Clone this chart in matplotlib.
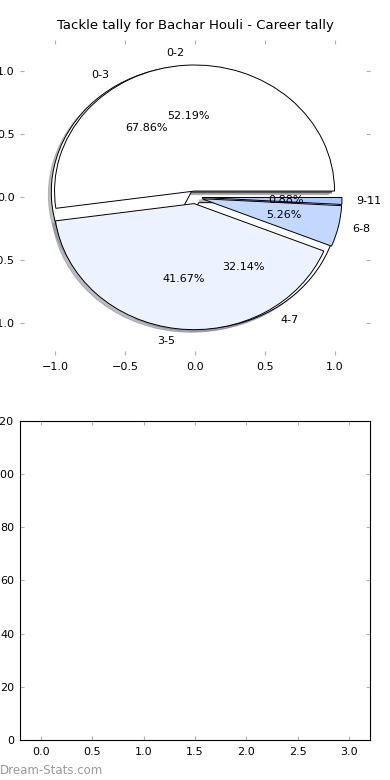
import matplotlib
matplotlib.use('Agg')
import matplotlib.pyplot as plt

# career tally, two groupings
labels_a = ['0-3', '4-7']
values_a = [67.86, 32.14]
colors_a = ['#ffffff', '#ffffff']

labels_b = ['0-2', '3-5', '6-8', '9-11']
values_b = [52.19, 41.67, 5.26, 0.88]
colors_b = ['#ffffff', '#ecf2ff', '#c4d8ff', '#a9c8ff']

title = 'Tackle tally for Bachar Houli - Career tally'

plt.rcParams['font.family'] = ['DejaVu Sans']
plt.rcParams['font.size'] = 8
plt.rcParams['xtick.direction'] = 'in'
plt.rcParams['ytick.direction'] = 'in'
plt.rcParams['xtick.top'] = True
plt.rcParams['ytick.right'] = True
plt.rcParams['xtick.color'] = '#b0b0b0'
plt.rcParams['ytick.color'] = '#b0b0b0'
plt.rcParams['xtick.labelcolor'] = 'black'
plt.rcParams['ytick.labelcolor'] = 'black'
plt.rcParams['xtick.major.size'] = 3
plt.rcParams['ytick.major.size'] = 3
plt.rcParams['xtick.major.pad'] = 5
plt.rcParams['ytick.major.pad'] = 4

fig = plt.figure(figsize=(3.9, 7.8), dpi=100)
ax1 = fig.add_axes([0.0513, 0.545, 0.8974, 0.404])
ax2 = fig.add_axes([0.0513, 0.0513, 0.8974, 0.409])

wp = {'edgecolor': 'black', 'linewidth': 0.7}
sh = {'ox': -0.015, 'oy': -0.015, 'shade': 0.45, 'alpha': 0.55}
ax1.pie(values_a, labels=labels_a, colors=colors_a, explode=[0.05] * len(values_a),
        autopct='%1.2f%%', shadow=sh, wedgeprops=wp, frame=True)
ax1.pie(values_b, labels=labels_b, colors=colors_b, explode=[0.05] * len(values_b),
        autopct='%1.2f%%', shadow=sh, wedgeprops=wp, frame=True)
ax1.set_aspect('auto')
ax1.set_xlim(-1.25, 1.25)
ax1.set_ylim(-1.25, 1.25)
ax1.set_xticks([-1.0, -0.5, 0.0, 0.5, 1.0])
ax1.set_yticks([-1.0, -0.5, 0.0, 0.5, 1.0])
ax1.set_frame_on(False)
ax1.set_title(title, fontsize=9.5, pad=8)

ax2.set_xlim(-0.2, 3.2)
ax2.set_ylim(0, 120)
ax2.set_xticks([0.0, 0.5, 1.0, 1.5, 2.0, 2.5, 3.0])
ax2.set_yticks([0, 20, 40, 60, 80, 100, 120])

fig.text(0.0, 0.004, 'Dream-Stats.com', color='#999999', fontsize=8.5, ha='left', va='bottom')

fig.savefig('out.png', dpi=100)
